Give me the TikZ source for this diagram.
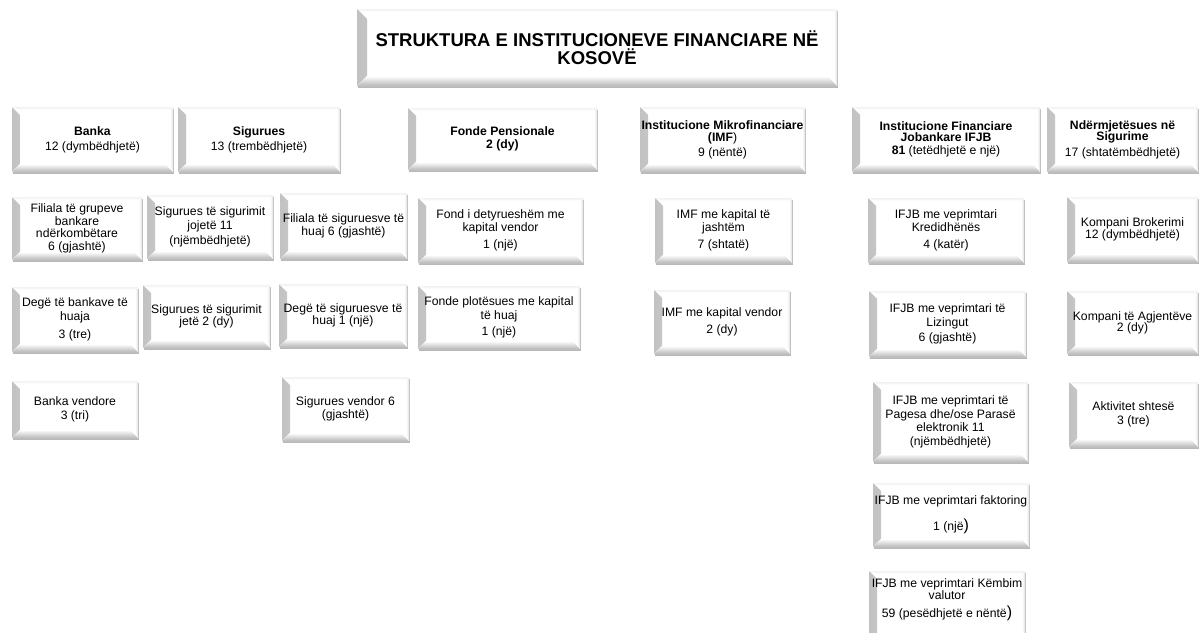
\documentclass[tikz,border=0pt]{standalone}
\usepackage{fontspec}
\setmainfont{Liberation Sans}
\usetikzlibrary{shadows}

% body text of the boxes
\newcommand\boxfont{\fontsize{12.2}{13.5}\selectfont}
\newcommand\titlefont{\fontsize{18.5}{18.5}\selectfont\bfseries\lineskiplimit=-20pt\relax}
\newcommand\bigparen[1]{{\fontsize{16}{13.5}\selectfont #1}}
\newlength\bevw
\setlength\bevw{8pt}

\tikzset{
  bevelbox/.style={
    rectangle, inner sep=0pt, fill=white, align=center, font=\boxfont,
    drop shadow={shadow xshift=0.6pt, shadow yshift=-2.2pt, fill=black, opacity=0.28},
    path picture={
      % left bevel
      \fill[left color=black!24, right color=white]
        (path picture bounding box.north west)
        -- ([xshift=\bevw,yshift=-\bevw]path picture bounding box.north west)
        -- ([xshift=\bevw,yshift=\bevw]path picture bounding box.south west)
        -- (path picture bounding box.south west) -- cycle;
      % bottom bevel
      \fill[bottom color=black!28, top color=white]
        (path picture bounding box.south west)
        -- ([xshift=\bevw,yshift=\bevw]path picture bounding box.south west)
        -- ([xshift=-\bevw,yshift=\bevw]path picture bounding box.south east)
        -- (path picture bounding box.south east) -- cycle;
      % right bevel
      \fill[right color=black!12, left color=white]
        (path picture bounding box.north east)
        -- ([xshift=-3pt,yshift=-3pt]path picture bounding box.north east)
        -- ([xshift=-3pt,yshift=\bevw]path picture bounding box.south east)
        -- (path picture bounding box.south east) -- cycle;
      % top bevel
      \fill[top color=black!5, bottom color=white]
        (path picture bounding box.north west)
        -- ([xshift=\bevw,yshift=-3pt]path picture bounding box.north west)
        -- ([xshift=-3pt,yshift=-3pt]path picture bounding box.north east)
        -- (path picture bounding box.north east) -- cycle;
    }},
  plaintext/.style={inner sep=0pt, align=center, font=\boxfont}
}

% \bbox[extra style]{name}{left}{top}{right}{bottom}{text}, pixel-style coordinates
\newcommand\bbox[7][]{%
  \pgfmathsetmacro\bxw{#5-#3}%
  \pgfmathsetmacro\bxh{#6-#4}%
  \node[bevelbox, minimum width=\bxw pt, minimum height=\bxh pt, #1] (#2)
    at ({(#3+#5)/2},{(#4+#6)/2}) {#7};}

\begin{document}
\begin{tikzpicture}[x=1pt,y=-1pt]
\useasboundingbox[fill=white] (0,0) rectangle (1201,632);

% title
\setlength\bevw{10pt}
\bbox[font=\titlefont]{title}{357}{9}{837}{86}{STRUKTURA E INSTITUCIONEVE FINANCIARE NË\\KOSOVË}
\setlength\bevw{8pt}

% institution groups
\bbox{banka}{12}{107}{173}{172}{\textbf{Banka}\\[1.5pt]12 (dymbëdhjetë)}
\bbox{sig}{178}{107}{340}{172}{\textbf{Sigurues}\\[1.5pt]13 (trembëdhjetë)}
\bbox{fonde}{408}{108}{597}{170}{\textbf{Fonde Pensionale}\\\textbf{2 (dy)}}
\bbox{imf}{640}{107}{805}{172}{\textbf{Institucione Mikrofinanciare}\\[-1.5pt]\textbf{(IMF})\\[1.5pt]9 (nëntë)}
\bbox{ifjb}{852}{107}{1040}{172}{\textbf{Institucione Financiare}\\[-2.5pt]\textbf{Jobankare IFJB}\\\textbf{81} (tetëdhjetë e një)}
\bbox{ndm}{1047}{107}{1198}{172}{\textbf{Ndërmjetësues në}\\[-2.5pt]\textbf{Sigurime}\\[2.5pt]17 (shtatëmbëdhjetë)}

% banks
\bbox{b1}{12}{197}{142}{260}{Filiala të grupeve\\[-1pt]bankare\\[-1pt]ndërkombëtare\\[-1pt]6 (gjashtë)}
\bbox{b2}{12}{287}{138}{352}{Degë të bankave të\\huaja\\[4.5pt]3 (tre)}
\bbox{b3}{12}{381}{138}{438}{Banka vendore\\3 (tri)}

% insurers
\bbox{s1}{147}{195}{273}{259}{Sigurues të sigurimit\\jojetë 11\\[1.5pt](njëmbëdhjetë)}
\bbox{s2}{280}{193}{407}{259}{Filiala të siguruesve të\\[-1pt]huaj 6 (gjashtë)}
\bbox{s3}{143}{285}{270}{348}{Sigurues të sigurimit\\[-1.5pt]jetë 2 (dy)}
\bbox{s4}{279}{284}{407}{347}{Degë të siguruesve të\\[-1pt]huaj 1 (një)}
\bbox{s5}{282}{377}{409}{441}{Sigurues vendor 6\\(gjashtë)}

% pension funds
\bbox{f1}{418}{198}{583}{263}{Fond i detyrueshëm me\\kapital vendor\\[3.5pt]1 (një)}
\bbox{f2}{418}{286}{580}{349}{Fonde plotësues me kapital\\të huaj\\[2.5pt]1 (një)}

% microfinance institutions
\bbox{i1}{655}{198}{792}{263}{IMF me kapital të\\jashtëm\\[3.5pt]7 (shtatë)}
\bbox{i2}{654}{290}{790}{354}{IMF me kapital vendor\\[3.5pt]2 (dy)}

% non-bank financial institutions
\bbox{j1}{868}{198}{1024}{263}{IFJB me veprimtari\\Kredidhënës\\[3.5pt]4 (katër)}
\bbox{j2}{869}{291}{1026}{357}{IFJB me veprimtari të\\Lizingut\\[1.5pt]6 (gjashtë)}
\bbox{j3}{873}{382}{1028}{462}{IFJB me veprimtari të\\Pagesa dhe/ose Parasë\\elektronik 11\\(njëmbëdhjetë)}
\bbox{j4}{873}{483}{1029}{547}{IFJB me veprimtari faktoring\\[10.5pt]1 (një\bigparen{)}}
\bbox{j5}{869}{571}{1025}{642}{}
\node[plaintext] (j5t) at (947,600) {IFJB me veprimtari Këmbim\\[-1.5pt]valutor\\[4.5pt]59 (pesëdhjetë e nëntë\bigparen{)}};

% insurance intermediaries
\bbox{n1}{1067}{197}{1198}{262}{Kompani Brokerimi\\[-1.5pt]12 (dymbëdhjetë)}
\bbox{n2}{1067}{291}{1198}{354}{Kompani të Agjentëve\\[-2.5pt]2 (dy)}
\bbox{n3}{1069}{382}{1198}{447}{Aktivitet shtesë\\3 (tre)}

\end{tikzpicture}
\end{document}
